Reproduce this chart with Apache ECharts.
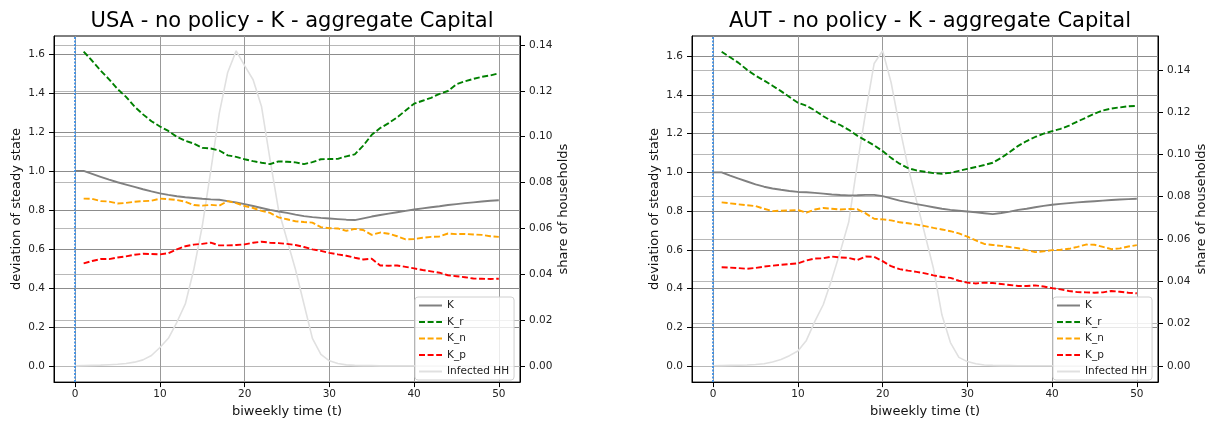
<!DOCTYPE html>
<html>
<head>
<meta charset="utf-8">
<script src="https://cdn.jsdelivr.net/npm/echarts@6/dist/echarts.min.js"></script>
<style>
  html, body { margin: 0; padding: 0; background: #fff; }
  #chart { width: 1213px; height: 423px; }
</style>
</head>
<body>
<div id="chart"></div>
<script>
// biweekly time steps
const time = [0,1,2,3,4,5,6,7,8,9,10,11,12,13,14,15,16,17,18,19,20,21,22,23,24,25,
  26,27,28,29,30,31,32,33,34,35,36,37,38,39,40,41,42,43,44,45,46,47,48,49,50];

// USA
const usaK = [1.0,1.0,0.985,0.970,0.955,0.942,0.930,0.918,0.906,0.895,0.885,0.877,0.870,0.865,0.861,0.857,
  0.854,0.852,0.845,0.838,0.830,0.820,0.810,0.800,0.792,0.785,0.776,0.768,0.763,0.759,0.756,0.753,0.750,0.748,
  0.757,0.766,0.774,0.781,0.788,0.795,0.802,0.808,0.814,0.819,0.825,0.830,0.835,0.839,0.843,0.847,0.850];
const usaKr = [null,1.612,1.565,1.515,1.47,1.42,1.38,1.33,1.29,1.255,1.228,1.205,1.175,1.155,1.14,1.118,1.115,
  1.105,1.08,1.072,1.06,1.05,1.042,1.035,1.049,1.047,1.044,1.035,1.045,1.06,1.061,1.062,1.075,1.085,1.13,1.185,
  1.22,1.245,1.275,1.31,1.345,1.36,1.375,1.395,1.41,1.445,1.46,1.472,1.483,1.49,1.501];
const usaKn = [null,0.858,0.857,0.845,0.843,0.833,0.836,0.842,0.845,0.847,0.858,0.855,0.851,0.842,0.825,0.822,
  0.826,0.822,0.845,0.835,0.82,0.81,0.795,0.785,0.762,0.752,0.742,0.738,0.735,0.712,0.706,0.705,0.693,0.703,
  0.697,0.672,0.684,0.678,0.665,0.649,0.651,0.657,0.662,0.664,0.679,0.676,0.677,0.674,0.672,0.665,0.662];
const usaKp = [null,0.526,0.538,0.548,0.548,0.556,0.562,0.57,0.575,0.574,0.572,0.578,0.598,0.614,0.622,0.626,
  0.632,0.618,0.618,0.62,0.623,0.632,0.637,0.632,0.63,0.626,0.62,0.61,0.598,0.59,0.58,0.572,0.565,0.555,0.546,
  0.55,0.515,0.514,0.515,0.508,0.5,0.492,0.485,0.478,0.465,0.46,0.455,0.448,0.447,0.446,0.447];
const usaInf = [0,0.0001,0.0002,0.0003,0.0005,0.0007,0.001,0.0016,0.0026,0.0045,0.008,0.012,0.019,0.027,0.042,
  0.061,0.085,0.11,0.128,0.1374,0.131,0.1248,0.113,0.09,0.068,0.055,0.042,0.027,0.012,0.005,0.0022,0.001,0.0004,
  0.0002,0.0001,0.0001,0,0,0,0,0,0,0,0,0,0,0,0,0,0,0];

// AUT
const autK = [1.0,1.0,0.983,0.968,0.953,0.938,0.926,0.917,0.91,0.904,0.899,0.897,0.894,0.89,0.886,0.883,0.881,
  0.882,0.884,0.884,0.877,0.866,0.854,0.845,0.836,0.828,0.82,0.812,0.806,0.802,0.798,0.794,0.789,0.784,0.79,
  0.797,0.806,0.812,0.82,0.827,0.833,0.837,0.841,0.845,0.848,0.851,0.854,0.857,0.86,0.862,0.864];
const autKr = [null,1.624,1.595,1.566,1.53,1.5,1.475,1.448,1.42,1.39,1.36,1.345,1.32,1.29,1.265,1.245,1.22,1.19,
  1.165,1.14,1.11,1.075,1.045,1.022,1.01,1.003,0.996,0.993,0.998,1.008,1.018,1.028,1.038,1.05,1.075,1.105,1.137,
  1.162,1.183,1.2,1.213,1.225,1.242,1.263,1.283,1.304,1.32,1.33,1.336,1.342,1.344];
const autKn = [null,0.845,0.84,0.835,0.83,0.826,0.812,0.8,0.802,0.803,0.806,0.792,0.808,0.816,0.812,0.808,0.811,
  0.81,0.788,0.76,0.757,0.752,0.742,0.737,0.73,0.722,0.713,0.705,0.696,0.685,0.668,0.648,0.63,0.625,0.62,0.614,
  0.608,0.598,0.588,0.592,0.598,0.6,0.605,0.615,0.627,0.626,0.615,0.603,0.607,0.617,0.624];
const autKp = [null,0.51,0.508,0.505,0.502,0.506,0.513,0.518,0.522,0.526,0.53,0.545,0.555,0.556,0.565,0.56,0.558,
  0.547,0.565,0.563,0.541,0.515,0.5,0.492,0.486,0.478,0.468,0.459,0.455,0.44,0.43,0.426,0.43,0.428,0.423,0.418,
  0.413,0.413,0.416,0.41,0.402,0.395,0.387,0.381,0.38,0.378,0.38,0.387,0.383,0.378,0.375];
const autInf = [0,0.0001,0.0002,0.0003,0.0004,0.0006,0.001,0.0018,0.003,0.0048,0.007,0.012,0.021,0.029,0.041,
  0.054,0.068,0.095,0.12,0.143,0.149,0.134,0.113,0.094,0.078,0.062,0.046,0.024,0.011,0.004,0.002,0.001,0.0004,
  0.0002,0.0001,0.0001,0,0,0,0,0,0,0,0,0,0,0,0,0,0,0];

const leftTicks = [0, 0.2, 0.4, 0.6, 0.8, 1.0, 1.2, 1.4, 1.6];
const usaRightTicks = [0, 0.02, 0.04, 0.06, 0.08, 0.10, 0.12, 0.14];
const autRightTicks = [0, 0.02, 0.04, 0.06, 0.08, 0.10, 0.12, 0.14];
const xTicks = [0, 10, 20, 30, 40, 50];

const FONT = 'DejaVu Sans';
const pairs = (arr) => time.map((t, i) => [t, arr[i]]);

function xAxis(gi) {
  return {
    type: 'value', gridIndex: gi, min: -2.5, max: 52.5,
    name: 'biweekly time (t)', nameLocation: 'middle', nameGap: 22,
    nameTextStyle: { fontFamily: FONT, fontSize: 13, color: '#111' },
    axisLine: { onZero: false, lineStyle: { color: '#000', width: 1 } },
    axisTick: { customValues: xTicks, length: 5, lineStyle: { color: '#000' } },
    axisLabel: { customValues: xTicks, fontFamily: FONT, fontSize: 10.5, color: '#222', margin: 7 },
    splitLine: { show: true, lineStyle: { color: '#999', width: 1 } }
  };
}
function leftY(gi, min, max) {
  return {
    type: 'value', gridIndex: gi, position: 'left', min: min, max: max,
    name: 'deviation of steady state', nameLocation: 'middle', nameGap: 31, nameRotate: 90,
    nameTextStyle: { fontFamily: FONT, fontSize: 13, color: '#111' },
    axisLine: { show: true, onZero: false, lineStyle: { color: '#000' } },
    axisTick: { show: true, customValues: leftTicks, length: 5, lineStyle: { color: '#000' } },
    axisLabel: { customValues: leftTicks, fontFamily: FONT, fontSize: 10.5, color: '#222', margin: 9,
      formatter: v => v.toFixed(1) },
    splitLine: { show: true, lineStyle: { color: '#8c8c8c', width: 1 } }
  };
}
function rightY(gi, min, max, ticks) {
  return {
    type: 'value', gridIndex: gi, position: 'right', min: min, max: max,
    name: 'share of households', nameLocation: 'middle', nameGap: 37, nameRotate: 90,
    nameTextStyle: { fontFamily: FONT, fontSize: 13, color: '#111' },
    axisLine: { show: true, onZero: false, lineStyle: { color: '#000' } },
    axisTick: { show: true, customValues: ticks, length: 5, lineStyle: { color: '#000' } },
    axisLabel: { customValues: ticks, fontFamily: FONT, fontSize: 10.5, color: '#222', margin: 9,
      formatter: v => v.toFixed(2) },
    splitLine: { show: true, lineStyle: { color: '#b8b8b8', width: 1 } }
  };
}
function seriesFor(gi, K, Kr, Kn, Kp, Inf) {
  const xi = gi, yl = gi * 2, yr = gi * 2 + 1;
  const base = { type: 'line', symbol: 'none', xAxisIndex: xi, yAxisIndex: yl, connectNulls: false };
  return [
    Object.assign({}, base, { name: 'Infected HH', yAxisIndex: yr, data: pairs(Inf), z: 1,
      lineStyle: { color: '#e0e0e0', width: 1.6 }, itemStyle: { color: '#e0e0e0' } }),
    Object.assign({}, base, { name: 'K', data: pairs(K), lineStyle: { color: '#808080', width: 1.9 },
      itemStyle: { color: '#808080' },
      markLine: { silent: true, symbol: ['none', 'none'], label: { show: false },
        lineStyle: { type: [2, 1.5], color: '#3d8fe6', width: 1.8 }, data: [{ xAxis: 0 }] } }),
    Object.assign({}, base, { name: 'K_r', data: pairs(Kr),
      lineStyle: { color: '#008000', width: 1.9, type: [6, 2.6] }, itemStyle: { color: '#008000' } }),
    Object.assign({}, base, { name: 'K_n', data: pairs(Kn),
      lineStyle: { color: '#ffa500', width: 1.9, type: [6, 2.6] }, itemStyle: { color: '#ffa500' } }),
    Object.assign({}, base, { name: 'K_p', data: pairs(Kp),
      lineStyle: { color: '#ff0000', width: 1.9, type: [6, 2.6] }, itemStyle: { color: '#ff0000' } })
  ];
}
function legendAt(left) {
  return {
    orient: 'vertical', left: left, top: 297,
    data: ['K', 'K_r', 'K_n', 'K_p', 'Infected HH'],
    itemWidth: 23, itemHeight: 10, itemGap: 5.5,
    padding: [3, 5, 3, 3],
    itemStyle: { color: 'rgba(0,0,0,0)', borderWidth: 0, opacity: 0 },
    backgroundColor: 'rgba(255,255,255,0.8)', borderColor: '#d0d0d0', borderWidth: 1, borderRadius: 3,
    textStyle: { fontFamily: FONT, fontSize: 10.5, color: '#222' }
  };
}

const chart = echarts.init(document.getElementById('chart'));
chart.setOption({
  animation: false,
  textStyle: { fontFamily: FONT },
  title: [
    { text: 'USA - no policy - K - aggregate Capital', left: 287, top: 6, textAlign: 'center',
      textStyle: { fontFamily: FONT, fontSize: 21, fontWeight: 'normal', color: '#000' } },
    { text: 'AUT - no policy - K - aggregate Capital', left: 925, top: 6, textAlign: 'center',
      textStyle: { fontFamily: FONT, fontSize: 21, fontWeight: 'normal', color: '#000' } }
  ],
  grid: [
    { left: 54, right: 693, top: 36, bottom: 40, show: true, borderColor: '#000', borderWidth: 1 },
    { left: 692, right: 55, top: 36, bottom: 40, show: true, borderColor: '#000', borderWidth: 1 }
  ],
  legend: [legendAt(415), legendAt(1053)],
  xAxis: [xAxis(0), xAxis(1)],
  yAxis: [
    leftY(0, -0.083, 1.692), rightY(0, -0.0071, 0.1439, usaRightTicks),
    leftY(1, -0.084, 1.705), rightY(1, -0.0077, 0.156, autRightTicks)
  ],
  series: seriesFor(0, usaK, usaKr, usaKn, usaKp, usaInf)
    .concat(seriesFor(1, autK, autKr, autKn, autKp, autInf))
});
</script>
</body>
</html>
